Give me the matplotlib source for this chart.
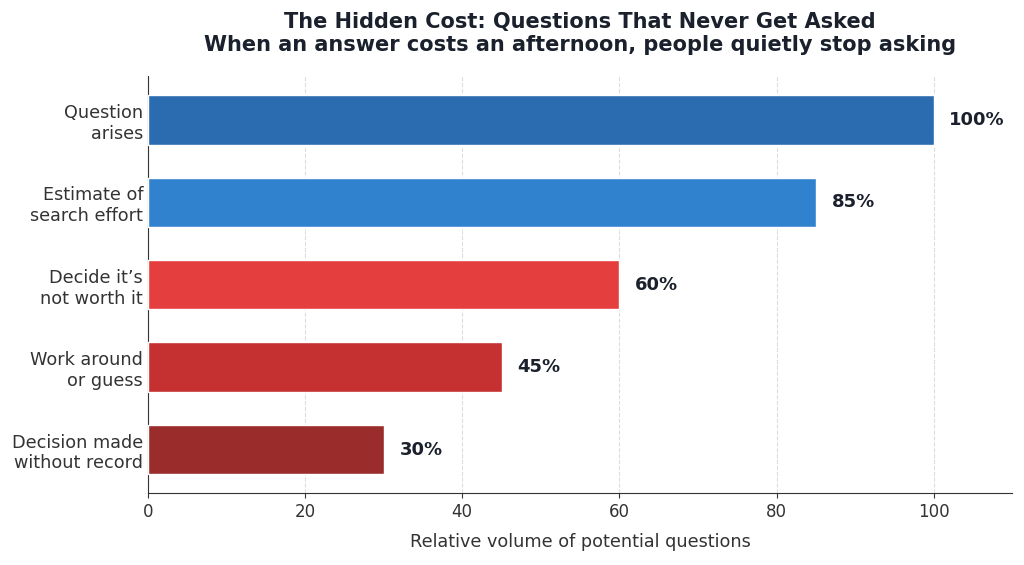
import numpy as np
import matplotlib
matplotlib.use("Agg")
import matplotlib.pyplot as plt

# data
stages = ["Question\narises", "Estimate of\nsearch effort", "Decide it\u2019s\nnot worth it",
          "Work around\nor guess", "Decision made\nwithout record"]
volume = [100, 85, 60, 45, 30]
colors = ["#2B6CB0", "#3182CE", "#E53E3E", "#C53030", "#9B2C2C"]

fig, ax = plt.subplots(figsize=(10.24, 5.65), dpi=100)

y = np.arange(len(stages))
bars = ax.barh(y, volume, height=0.6, color=colors, edgecolor="white", linewidth=1, zorder=3)
ax.invert_yaxis()
ax.set_yticks(y)
ax.set_yticklabels(stages, fontsize=12.7, color="#333333")

for b, v in zip(bars, volume):
    ax.text(b.get_width() + 2, b.get_y() + b.get_height() / 2, f"{v}%",
            va="center", ha="left", fontsize=13, fontweight="bold", color="#1A202C")

ax.set_xlim(0, 110)
ax.tick_params(axis="x", labelsize=12, colors="#333333")
ax.tick_params(axis="y", length=0)
ax.set_xlabel("Relative volume of potential questions", fontsize=12.7, color="#333333", labelpad=9)
ax.set_title("The Hidden Cost: Questions That Never Get Asked\n"
             "When an answer costs an afternoon, people quietly stop asking",
             fontsize=15, fontweight="bold", color="#1A202C", pad=18)

ax.grid(axis="x", linestyle="--", color="#dddddd", linewidth=0.8, zorder=0)
ax.spines["top"].set_visible(False)
ax.spines["right"].set_visible(False)
ax.spines["left"].set_color("#333333")
ax.spines["bottom"].set_color("#333333")

plt.subplots_adjust(left=0.1445, right=0.9885, top=0.865, bottom=0.127)
plt.savefig("out.png", dpi=100)
